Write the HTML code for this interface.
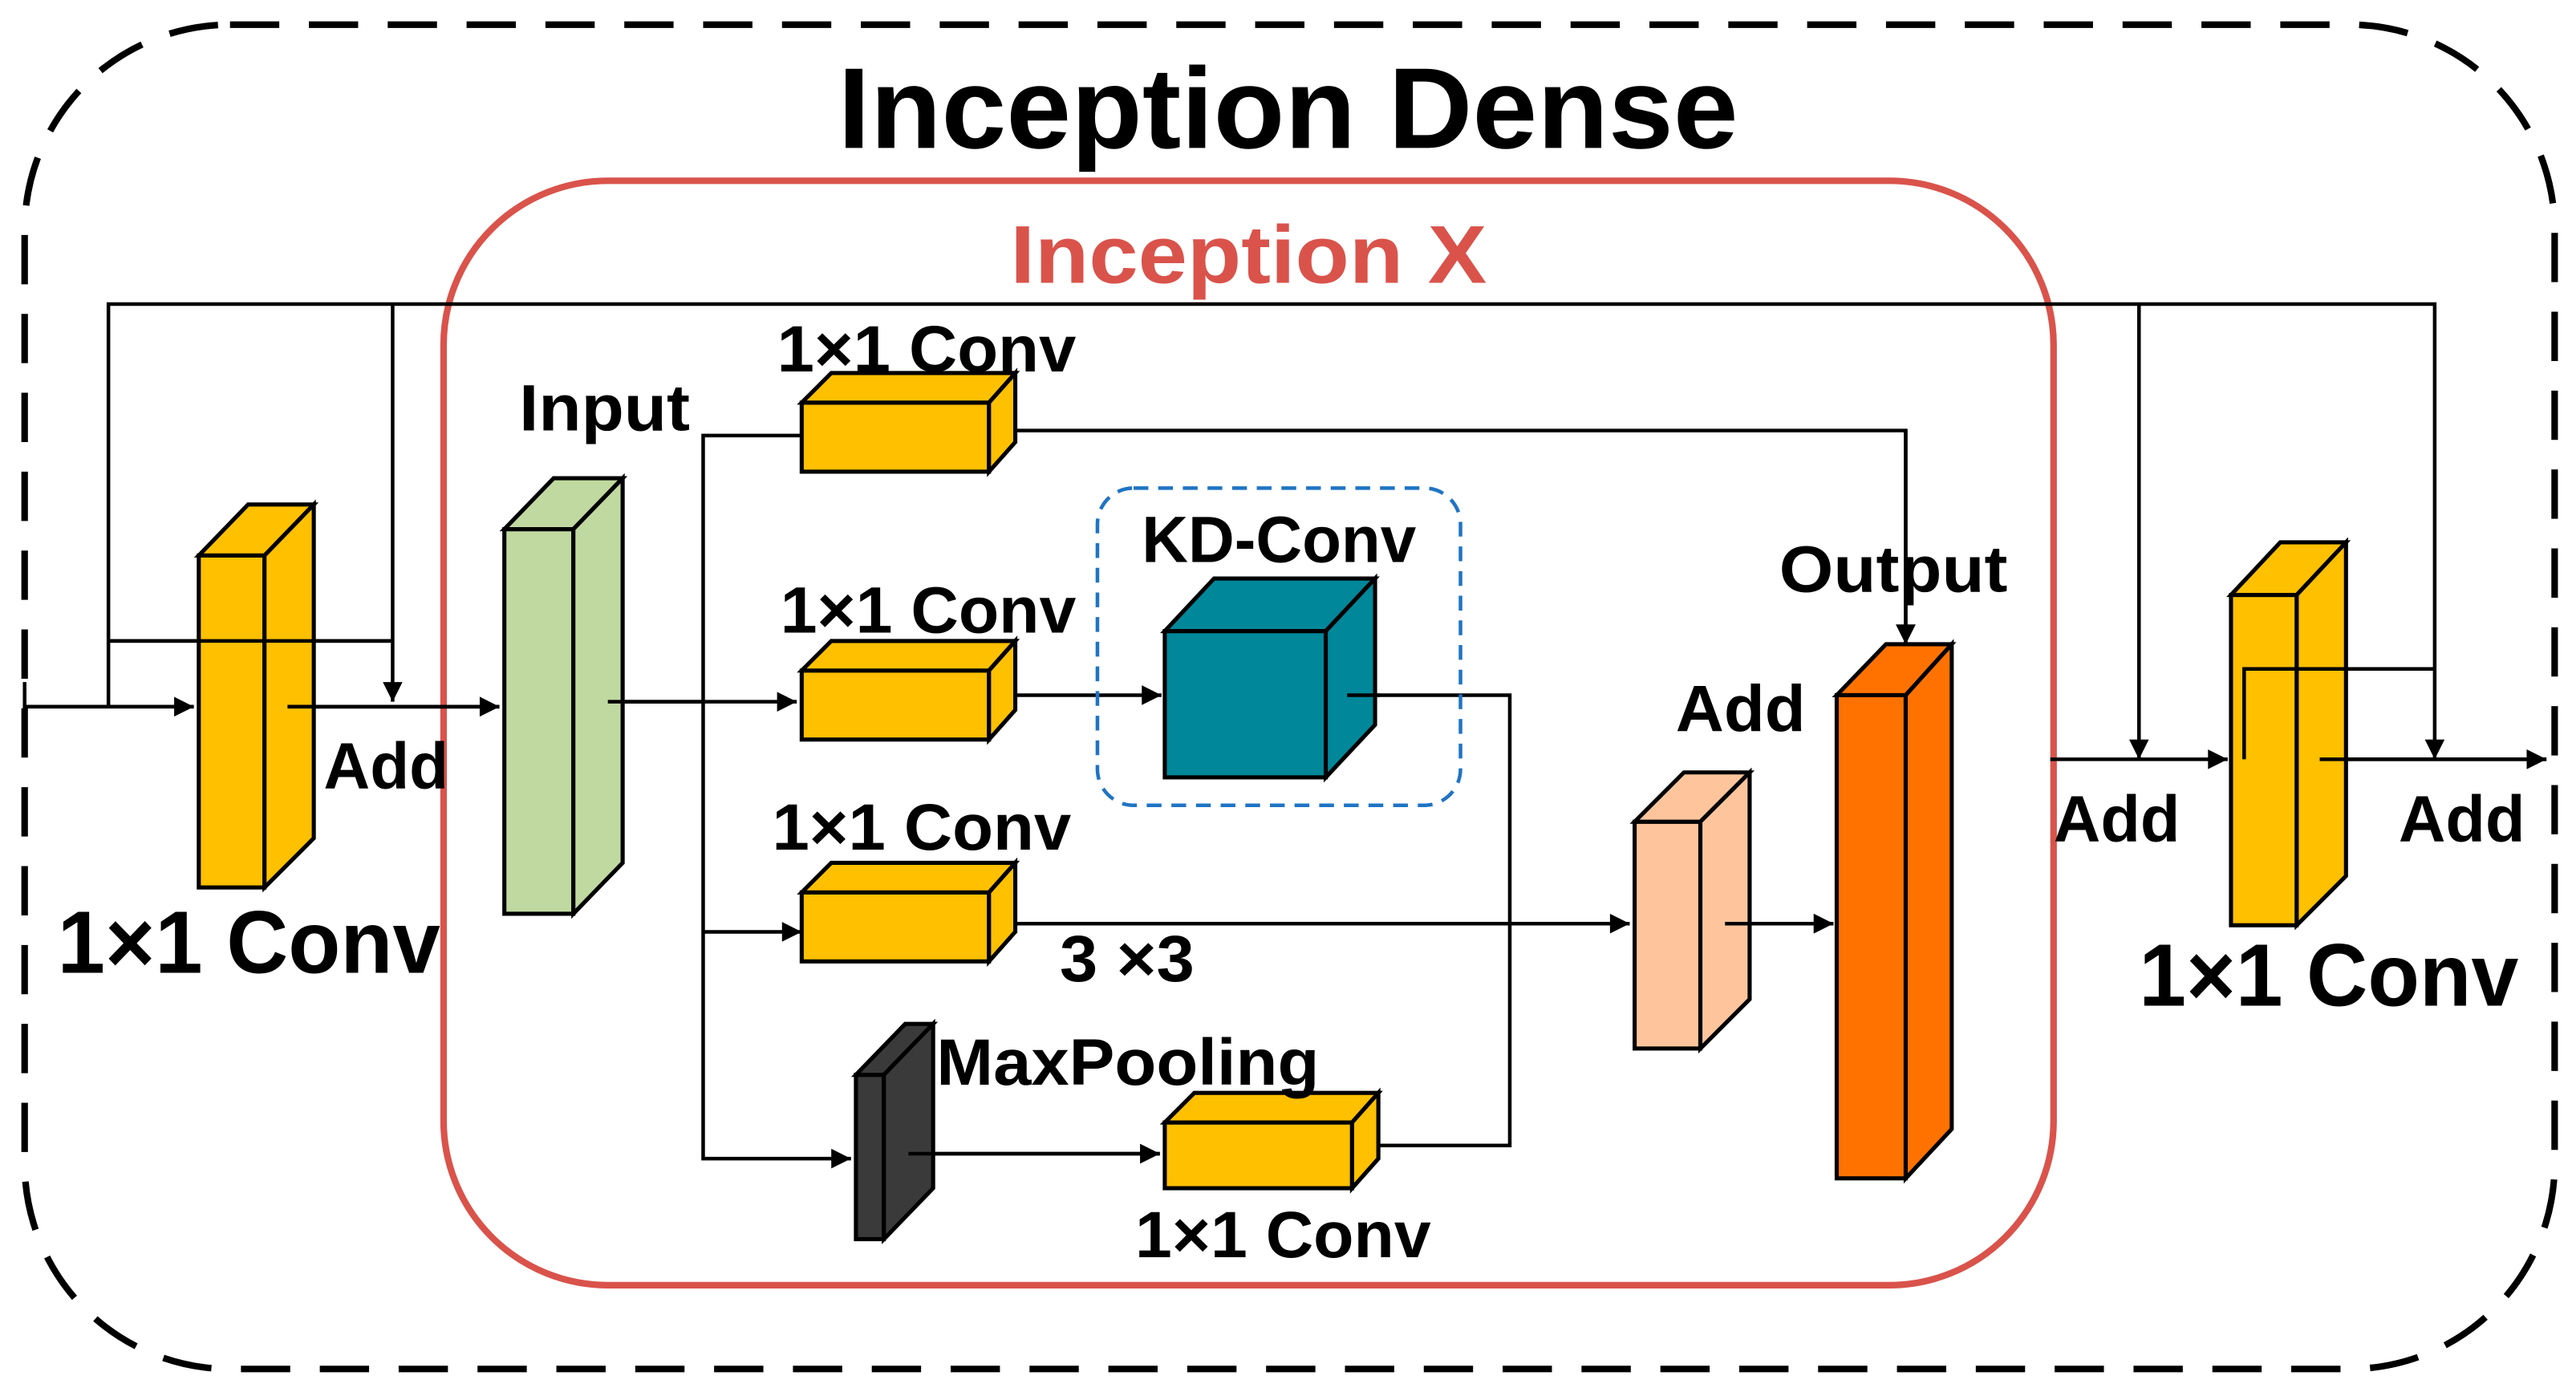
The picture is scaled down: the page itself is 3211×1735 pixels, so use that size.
<!DOCTYPE html>
<html><head><meta charset="utf-8"><style>
html,body{margin:0;padding:0;background:#fff;}
svg{display:block;}
text{font-family:"Liberation Sans",sans-serif;font-weight:bold;}
</style></head><body>
<svg width="3211" height="1735" viewBox="0 0 1568 847" preserveAspectRatio="none" xmlns="http://www.w3.org/2000/svg">
<defs>
<marker id="a" viewBox="0 0 10 10" refX="10" refY="5" markerWidth="11" markerHeight="9" markerUnits="userSpaceOnUse" orient="auto"><path d="M0,0L10,5L0,10z" fill="#000"/></marker>
<marker id="b" viewBox="0 0 10 10" refX="10" refY="5" markerWidth="22" markerHeight="12" markerUnits="userSpaceOnUse" orient="auto"><path d="M0,0L10,5L0,10z" fill="#000"/></marker>
</defs>
<rect x="15" y="15" width="1540" height="818" rx="125" fill="none" stroke="#000" stroke-width="4" stroke-dasharray="30 18"/>
<text x="784" y="90" font-size="70" text-anchor="middle" textLength="548" lengthAdjust="spacingAndGlyphs">Inception Dense</text>
<rect x="270" y="110" width="980" height="672" rx="100" fill="none" stroke="#d9534b" stroke-width="4"/>
<text x="760" y="172" font-size="50" fill="#d9534b" text-anchor="middle" textLength="290" lengthAdjust="spacingAndGlyphs">Inception X</text>

<g stroke="#000" stroke-width="2.2" fill="none">
<polyline points="66,430 66,185 1482,185 1482,462" marker-end="url(#b)"/>
<line x1="239" y1="185" x2="239" y2="427" marker-end="url(#b)"/>
<polyline points="66,390 239,390"/>
<line x1="1302" y1="185" x2="1302" y2="462" marker-end="url(#b)"/>
<line x1="15" y1="415" x2="15" y2="445"/>
<line x1="15" y1="430" x2="118" y2="430" marker-end="url(#b)"/>
<line x1="175" y1="430" x2="304" y2="430" marker-end="url(#b)"/>
<line x1="370" y1="427" x2="485" y2="427" marker-end="url(#b)"/>
<polyline points="488,265 428,265 428,705 518,705" marker-end="url(#b)"/>
<line x1="428" y1="567" x2="488" y2="567" marker-end="url(#b)"/>
<polyline points="612,262 1160,262 1160,392" marker-end="url(#b)"/>
<line x1="612" y1="423" x2="707" y2="423" marker-end="url(#b)"/>
<polyline points="820,423 919,423 919,697 835,697"/>
<line x1="612" y1="562" x2="992" y2="562" marker-end="url(#b)"/>
<line x1="553" y1="702" x2="706" y2="702" marker-end="url(#b)"/>
<line x1="1050" y1="562" x2="1116" y2="562" marker-end="url(#b)"/>
<line x1="1248" y1="462" x2="1356" y2="462" marker-end="url(#b)"/>
<polyline points="1366,462 1366,407 1482,407"/>
<line x1="1412" y1="462" x2="1550" y2="462" marker-end="url(#b)"/>
</g>

<g stroke="#000" stroke-width="2.5" stroke-linejoin="miter">
<!-- left conv -->
<g fill="#ffc000"><rect x="121" y="338" width="40" height="202"/><polygon points="121,338 151,307 191,307 161,338"/><polygon points="161,338 191,307 191,510 161,540"/></g>
<!-- green -->
<g fill="#c0d9a0"><rect x="307" y="322" width="42" height="234"/><polygon points="307,322 337,291 379,291 349,322"/><polygon points="349,322 379,291 379,525 349,556"/></g>
<!-- small convs -->
<g fill="#ffc000">
<rect x="488" y="245" width="114" height="42"/><polygon points="488,245 506,227 618,227 602,245"/><polygon points="602,245 618,227 618,269 602,287"/>
<rect x="488" y="408" width="114" height="42"/><polygon points="488,408 506,390 618,390 602,408"/><polygon points="602,408 618,390 618,432 602,450"/>
<rect x="488" y="543" width="114" height="42"/><polygon points="488,543 506,525 618,525 602,543"/><polygon points="602,543 618,525 618,567 602,585"/>
<rect x="709" y="683" width="114" height="40"/><polygon points="709,683 727,665 839,665 823,683"/><polygon points="823,683 839,665 839,705 823,723"/>
</g>
<!-- teal -->
<g fill="#00879a"><rect x="709" y="384" width="98" height="89"/><polygon points="709,384 739,352 837,352 807,384"/><polygon points="807,384 837,352 837,441 807,473"/></g>
<!-- maxpool -->
<g fill="#3a3a3a"><rect x="521" y="654" width="17" height="100"/><polygon points="521,654 551,623 568,623 538,654"/><polygon points="538,654 568,623 568,723 538,754"/></g>
<!-- peach -->
<g fill="#fec59c"><rect x="995" y="500" width="40" height="138"/><polygon points="995,500 1025,470 1065,470 1035,500"/><polygon points="1035,500 1065,470 1065,608 1035,638"/></g>
<!-- orange -->
<g fill="#ff7200"><rect x="1118" y="423" width="42" height="294"/><polygon points="1118,423 1148,392 1188,392 1160,423"/><polygon points="1160,423 1188,392 1188,687 1160,717"/></g>
<!-- right conv -->
<g fill="#ffc000"><rect x="1358" y="362" width="40" height="201"/><polygon points="1358,362 1388,330 1428,330 1398,362"/><polygon points="1398,362 1428,330 1428,533 1398,563"/></g>
</g>
<!-- lines over right conv -->
<g stroke="#000" stroke-width="2.2" fill="none">
<polyline points="1366,462 1366,407 1482,407"/>
<line x1="1412" y1="462" x2="1550" y2="462" marker-end="url(#b)"/>
<line x1="175" y1="430" x2="304" y2="430" marker-end="url(#b)"/>
<polyline points="66,390 239,390"/>
<line x1="1160" y1="262" x2="1160" y2="392" marker-end="url(#b)"/>
<line x1="370" y1="427" x2="428" y2="427"/>
<line x1="820" y1="423" x2="840" y2="423"/>
<line x1="1050" y1="562" x2="1116" y2="562" marker-end="url(#b)"/>
<line x1="553" y1="702" x2="706" y2="702" marker-end="url(#b)"/>
</g>

<rect x="668" y="297" width="221" height="193" rx="22" fill="none" stroke="#1f74c4" stroke-width="2.2" stroke-dasharray="9 6"/>

<g font-size="40">
<text x="197" y="480" textLength="76" lengthAdjust="spacingAndGlyphs">Add</text>
<text x="316" y="262" textLength="104" lengthAdjust="spacingAndGlyphs">Input</text>
<text x="473" y="226" textLength="182" lengthAdjust="spacingAndGlyphs">1×1 Conv</text>
<text x="475" y="385" textLength="180" lengthAdjust="spacingAndGlyphs">1×1 Conv</text>
<text x="470" y="517" textLength="182" lengthAdjust="spacingAndGlyphs">1×1 Conv</text>
<text x="691" y="765" textLength="180" lengthAdjust="spacingAndGlyphs">1×1 Conv</text>
<text x="695" y="342" textLength="167" lengthAdjust="spacingAndGlyphs">KD-Conv</text>
<text x="645" y="597" textLength="82" lengthAdjust="spacingAndGlyphs">3 ×3</text>
<text x="570" y="660" textLength="233" lengthAdjust="spacingAndGlyphs">MaxPooling</text>
<text x="1020" y="445" textLength="79" lengthAdjust="spacingAndGlyphs">Add</text>
<text x="1083" y="360" textLength="139" lengthAdjust="spacingAndGlyphs">Output</text>
<text x="1250" y="512" textLength="77" lengthAdjust="spacingAndGlyphs">Add</text>
<text x="1460" y="512" textLength="77" lengthAdjust="spacingAndGlyphs">Add</text>
</g>
<g font-size="54">
<text x="35" y="592" textLength="233" lengthAdjust="spacingAndGlyphs">1×1 Conv</text>
<text x="1302" y="612" textLength="231" lengthAdjust="spacingAndGlyphs">1×1 Conv</text>
</g>
</svg>
</body></html>
